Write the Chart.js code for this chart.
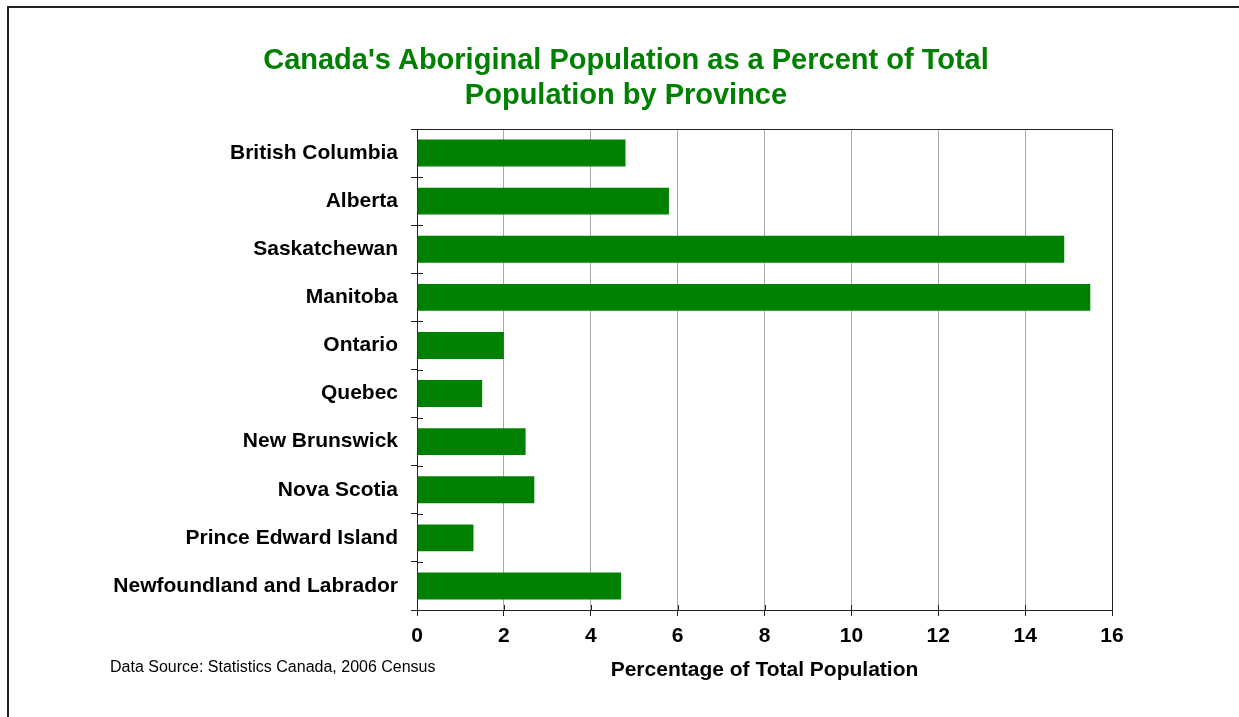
<!DOCTYPE html>
<html lang="en">
<head>
  <meta charset="UTF-8"/>
  <title>Aboriginal Population by Province</title>
  <script src="https://cdn.jsdelivr.net/npm/chart.js"></script>
  <style>
    html, body { margin: 0; padding: 0; background: #fff; overflow: hidden; }
    #wrap { position: relative; width: 1239px; height: 717px; }
    #frame {
      position: absolute; left: 7px; top: 6px; width: 1300px; height: 800px;
      border-left: 2px solid #222; border-top: 2px solid #222;
    }
    #chart { position: absolute; left: 0; top: 0; }
    #title {
      position: absolute; left: 176px; top: 42px; width: 900px; text-align: center;
      font: bold 29px/35px "Liberation Sans", Arial, sans-serif; color: #008000;
    }
    #source {
      position: absolute; left: 110px; top: 658px;
      font: 16px "Liberation Sans", Arial, sans-serif; color: #000;
    }
  </style>
</head>
<body>
  <div id="wrap">
    <div id="frame"></div>
    <canvas id="chart" width="1239" height="717"></canvas>
    <div id="title"></div>
    <div id="source">Data Source: Statistics Canada, 2006 Census</div>
  </div>

  <script>
    const provinces = [
      'British Columbia', 'Alberta', 'Saskatchewan', 'Manitoba', 'Ontario',
      'Quebec', 'New Brunswick', 'Nova Scotia', 'Prince Edward Island',
      'Newfoundland and Labrador'
    ];
    const percentAboriginal = [4.8, 5.8, 14.9, 15.5, 2.0, 1.5, 2.5, 2.7, 1.3, 4.7];
    const titleLines = ["Canada's Aboriginal Population as a Percent of Total", 'Population by Province'];
    const xAxisTitle = 'Percentage of Total Population';

    const FONT = '"Liberation Sans", Arial, Helvetica, sans-serif';
    const DARK = '#222';

    document.getElementById('title').innerHTML = titleLines.join('<br>');

    // box around the plot area plus tick marks crossing into it
    const plotFrame = {
      id: 'plotFrame',
      afterDraw(chart) {
        const { ctx, chartArea: a, scales } = chart;
        ctx.save();
        ctx.strokeStyle = DARK;
        ctx.lineWidth = 1;
        ctx.beginPath();
        ctx.moveTo(a.left, a.top + 0.5);
        ctx.lineTo(a.right + 0.5, a.top + 0.5);
        ctx.lineTo(a.right + 0.5, a.bottom);
        ctx.stroke();
        ctx.beginPath();
        scales.x.ticks.forEach((t, i) => {
          const px = Math.round(scales.x.getPixelForTick(i)) + 0.5;
          ctx.moveTo(px, a.bottom);
          ctx.lineTo(px, a.bottom - 5);
        });
        for (let i = 0; i <= provinces.length; i++) {
          const py = Math.round(a.top + (a.bottom - a.top) * i / provinces.length) + 0.5;
          ctx.moveTo(a.left, py);
          ctx.lineTo(a.left + 6, py);
        }
        ctx.stroke();
        ctx.restore();
      }
    };

    new Chart(document.getElementById('chart'), {
      type: 'bar',
      data: {
        labels: provinces,
        datasets: [{
          data: percentAboriginal,
          backgroundColor: '#008000',
          borderWidth: 0,
          barPercentage: 0.56,
          categoryPercentage: 1
        }]
      },
      options: {
        indexAxis: 'y',
        responsive: false,
        animation: false,
        layout: { padding: { left: 60, right: 127, top: 129, bottom: 20 } },
        plugins: {
          legend: { display: false },
          tooltip: { enabled: false },
          title: { display: false }
        },
        scales: {
          x: {
            min: 0, max: 16,
            ticks: { stepSize: 2, color: '#000', padding: 8, font: { family: FONT, size: 21, weight: 'bold' } },
            grid: { color: '#aaa', tickColor: DARK, tickLength: 6, lineWidth: 1 },
            border: { color: DARK, width: 1 },
            title: {
              display: true, text: xAxisTitle, color: '#000',
              font: { family: FONT, size: 21, weight: 'bold' },
              padding: { top: 0, bottom: 14.4 }
            },
            afterFit(scale) { scale.height = 87; }
          },
          y: {
            ticks: { color: '#000', padding: 13, font: { family: FONT, size: 21, weight: 'bold' } },
            grid: { drawOnChartArea: false, offset: true, tickColor: DARK, tickLength: 6 },
            border: { color: DARK, width: 1 },
            afterFit(scale) { scale.width = 357; }
          }
        }
      },
      plugins: [plotFrame]
    });
  </script>
</body>
</html>
